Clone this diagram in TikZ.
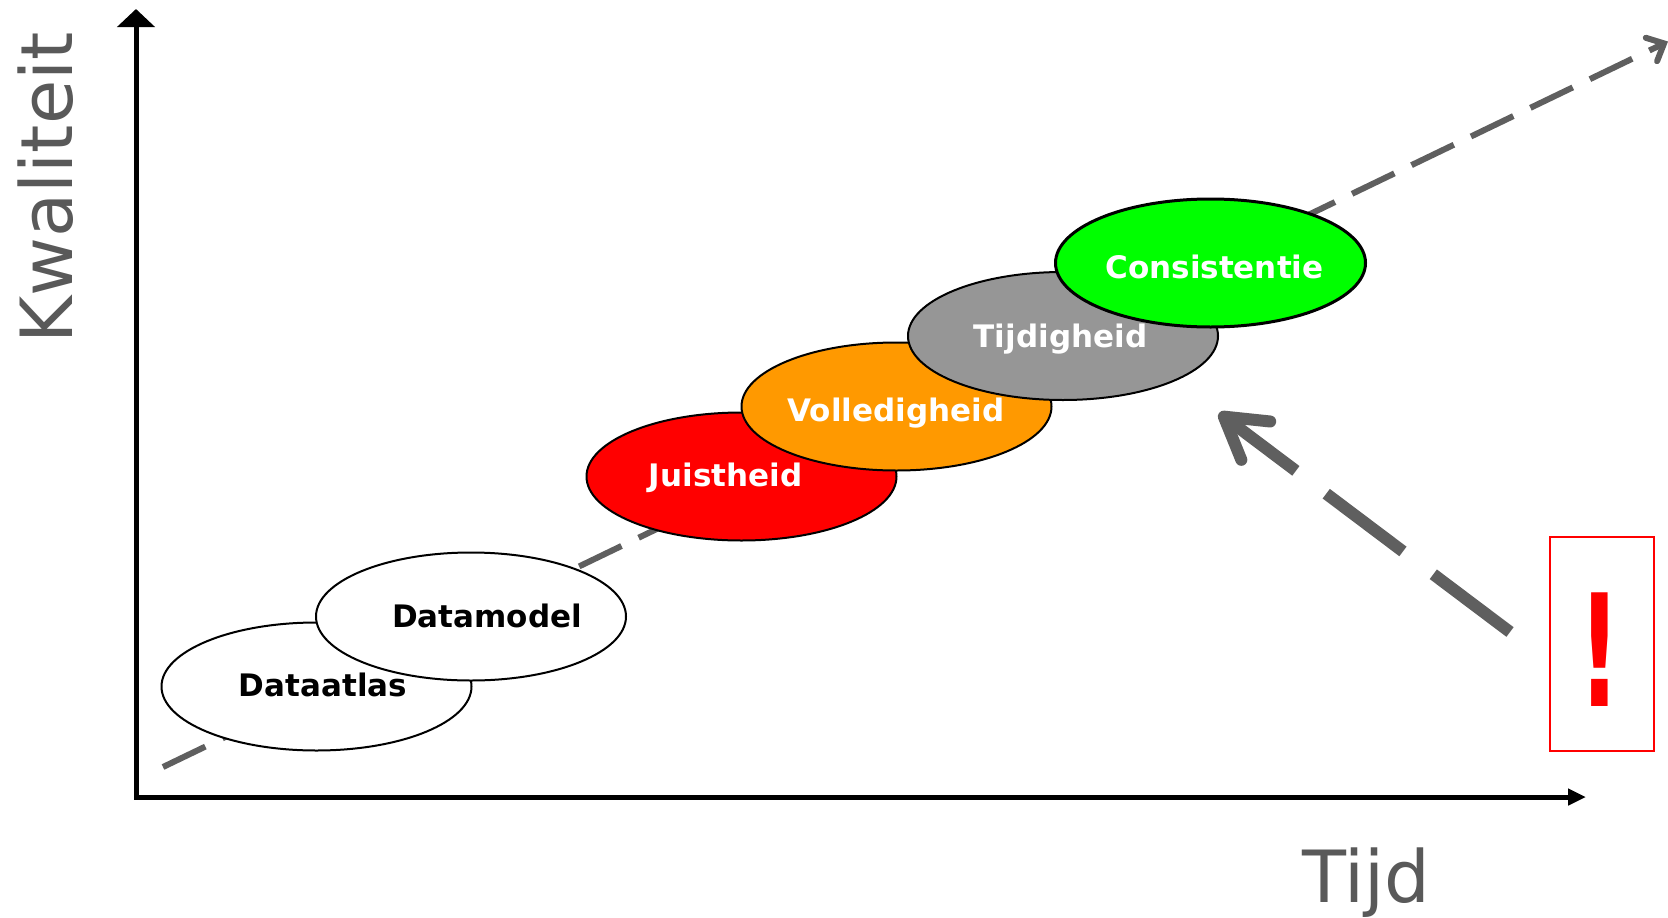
\documentclass[tikz,border=0pt]{standalone}
\usepackage{fontspec}
\setmainfont{DejaVu Sans}
\usetikzlibrary{arrows.meta,shapes.geometric}
\definecolor{dashgray}{HTML}{5F5F5F}
\definecolor{axislabel}{HTML}{595959}
\definecolor{juist}{HTML}{FF0000}
\definecolor{volle}{HTML}{FF9900}
\definecolor{tijdig}{HTML}{969696}
\definecolor{consis}{HTML}{00FF00}
\begin{document}
\begin{tikzpicture}[x=1pt,y=-1pt,
  blob/.style={ellipse, draw=black, line width=2pt, minimum width=310pt, minimum height=128pt, inner sep=0pt},
  lbl/.style={font=\bfseries\fontsize{31}{31}\selectfont, anchor=base, inner sep=0pt},
  axislbl/.style={font=\fontsize{72}{72}\selectfont, text=axislabel, inner sep=0pt},
  trend/.style={dashgray, line width=6pt, dash pattern=on 47pt off 19pt, -{Straight Barb[length=14pt,width=26pt,line cap=round]}},
  bigarrow/.style={dashgray, line width=12pt, dash pattern=on 96pt off 38pt, -{Straight Barb[length=40pt,width=48pt,line cap=round,line join=round]}}
  ]
\useasboundingbox (0,0) rectangle (1668,918);
\clip (0,0) rectangle (1668,918);
\fill[white] (0,0) rectangle (1668,918);

% trend line
\coordinate (qs) at (163,767);
\coordinate (qe) at (1668,41.5);
\draw[trend] (qs) -- (qe);

% axes
\coordinate (ytop) at (136,9);
\coordinate (o) at (136,797);
\coordinate (xend) at (1586,797);
\draw[line width=5pt, {Triangle[length=18pt,width=37pt]}-{Triangle[length=18pt,width=16pt]}] (ytop) -- (o) -- (xend);

% ellipses
\node[blob, fill=white] (atlas) at (316.5,686.5) {};
\node[blob, fill=white] (model) at (471,616.5) {};
\node[blob, fill=juist] (juist) at (741.5,476.5) {};
\node[blob, fill=volle] (volle) at (896.5,406.5) {};
\node[blob, fill=tijdig] (tijd) at (1063,336) {};
\node[blob, fill=consis, line width=3pt] (cons) at (1210.5,263) {};

% labels
\node[lbl] (tatlas) at (323,696) {Dataatlas};
\node[lbl] (tmodel) at (487,627) {Datamodel};
\node[lbl, text=white] (tjuist) at (725.5,486) {Juistheid};
\node[lbl, text=white] (tvolle) at (896,421) {Volledigheid};
\node[lbl, text=white] (ttijd) at (1060.5,347) {Tijdigheid};
\node[lbl, text=white] (tcons) at (1214.5,278) {Consistentie};

% axis labels
\node[axislbl, rotate=90, anchor=base] (kw) at (72,188) {Kwaliteit};
\node[axislbl, anchor=base] (tijdlbl) at (1366.5,902) {Tijd};

% big arrow
\coordinate (bs) at (1510,632);
\coordinate (bt) at (1219,413);
\draw[bigarrow] (bs) -- (bt);

% warning box
\node[draw=red, line width=2pt, minimum width=104pt, minimum height=214pt, inner sep=0pt] (warn) at (1602,644) {};
\node[text=red, font=\bfseries\fontsize{156}{156}\selectfont, xscale=0.6, inner sep=0pt] (excl) at (1600,650) {!};
\end{tikzpicture}
\end{document}
